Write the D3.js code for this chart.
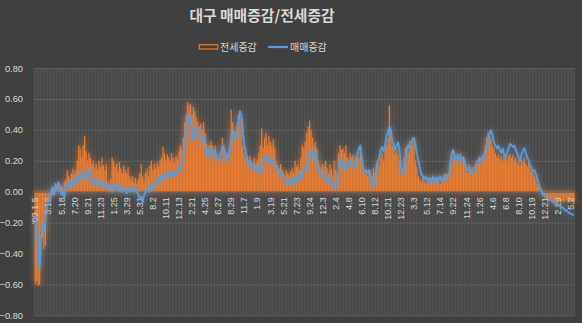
<!DOCTYPE html>
<html>
<head>
<meta charset="utf-8">
<script src="https://cdn.jsdelivr.net/npm/d3@7/dist/d3.min.js"></script>
<style>
  html, body { margin: 0; padding: 0; background: #404040; }
  svg { display: block; }
</style>
</head>
<body>
<svg id="chart" width="582" height="323"></svg>
<script>
// Weekly tick labels (one every 9 weeks)
const tickLabels = ["'09.1.5","3.16","5.18","7.20","9.21","11.23","1.25","3.29","5.31","8.2",
  "10.11","12.13","2.21","4.25","6.27","8.29","11.7","1.9","3.19","5.21",
  "7.23","9.24","12.3","2.4","4.8","6.10","8.12","10.21","12.23","3.3",
  "5.12","7.14","9.22","11.24","1.26","4.6","6.8","8.10","10.19","12.21",
  "2.29","5.2"];
const tickEvery = 9;

// 전세증감 (weekly % change, bars)
const jeonse = [
  -0.60,-0.58,-0.61,-0.60,-0.25,-0.30,-0.37,-0.35,-0.05,-0.04,
  -0.03,-0.04,-0.02,0.02,0.04,0.03,0.05,0.02,0.04,0.03,
  0.06,0.08,0.14,0.10,0.08,0.12,0.15,0.11,0.14,0.20,
  0.30,0.28,0.22,0.30,0.36,0.26,0.20,0.25,0.22,0.18,
  0.20,0.15,0.18,0.14,0.20,0.16,0.22,0.17,0.14,0.18,
  0.06,0.05,0.08,0.22,0.20,0.16,0.18,0.13,0.19,0.15,
  0.12,0.17,0.14,0.12,0.16,0.10,0.08,0.10,0.06,0.09,
  0.05,0.08,0.12,0.18,0.10,0.06,0.12,0.15,0.10,0.17,
  0.20,0.14,0.18,0.15,0.19,0.16,0.20,0.22,0.29,0.25,
  0.20,0.24,0.22,0.20,0.25,0.22,0.19,0.23,0.21,0.26,
  0.30,0.28,0.35,0.45,0.50,0.58,0.56,0.57,0.50,0.55,
  0.52,0.48,0.45,0.42,0.44,0.40,0.45,0.38,0.31,0.28,
  0.30,0.33,0.30,0.27,0.30,0.25,0.20,0.24,0.22,0.35,
  0.30,0.22,0.25,0.20,0.28,0.53,0.45,0.40,0.38,0.42,
  0.50,0.48,0.45,0.30,0.25,0.22,0.20,0.18,0.23,0.20,
  0.16,0.22,0.18,0.20,0.25,0.30,0.41,0.28,0.35,0.38,
  0.30,0.36,0.32,0.30,0.34,0.28,0.20,0.17,0.15,0.18,
  0.14,0.12,0.10,0.14,0.12,0.10,0.13,0.15,0.12,0.20,
  0.16,0.18,0.14,0.22,0.30,0.28,0.32,0.38,0.42,0.46,
  0.40,0.35,0.30,0.32,0.28,0.20,0.17,0.15,0.18,0.16,
  0.20,0.15,0.12,0.18,0.15,0.10,0.20,0.14,0.12,0.25,
  0.30,0.27,0.28,0.25,0.30,0.22,0.20,0.25,0.22,0.24,
  0.20,0.23,0.25,0.22,0.25,0.20,0.15,0.12,0.14,0.10,
  0.13,0.11,0.10,0.15,0.12,0.18,0.20,0.17,0.22,0.25,
  0.20,0.28,0.30,0.35,0.56,0.38,0.30,0.28,0.25,0.27,
  0.24,0.20,0.12,0.15,0.22,0.28,0.30,0.25,0.33,0.30,
  0.35,0.32,0.20,0.16,0.10,0.08,0.06,0.09,0.07,0.05,
  0.08,0.06,0.09,0.07,0.10,0.06,0.08,0.10,0.07,0.05,
  0.09,0.08,0.10,0.12,0.09,0.11,0.20,0.26,0.22,0.25,
  0.21,0.24,0.22,0.25,0.20,0.23,0.18,0.15,0.12,0.18,
  0.14,0.16,0.12,0.17,0.20,0.18,0.21,0.19,0.22,0.25,
  0.30,0.35,0.38,0.36,0.34,0.30,0.28,0.25,0.22,0.24,
  0.21,0.23,0.20,0.24,0.22,0.20,0.23,0.25,0.22,0.24,
  0.20,0.22,0.18,0.20,0.17,0.21,0.19,0.22,0.18,0.16,
  0.19,0.15,0.13,0.12,0.10,0.08,0.05,0.03,0.01,-0.02,
  -0.03,-0.04,-0.05,-0.04,-0.06,-0.05,-0.06,-0.07,-0.06,-0.05,
  -0.07,-0.06,-0.07,-0.06,-0.07,-0.06,-0.05,-0.07,-0.06,-0.07,
  -0.06,-0.07
];

// 매매증감 (weekly % change, line)
const maemae = [
  -0.15,-0.28,-0.42,-0.50,-0.30,-0.22,-0.25,-0.18,-0.12,-0.06,
  -0.03,0.00,0.03,-0.02,0.05,0.02,0.06,0.03,-0.02,0.00,
  -0.04,0.02,0.05,0.03,0.06,0.04,0.07,0.04,0.08,0.10,
  0.07,0.10,0.12,0.10,0.11,0.09,0.12,0.15,0.10,0.06,
  0.08,0.05,0.07,0.05,0.07,0.04,0.06,0.05,0.03,0.05,
  0.02,0.04,0.03,0.00,0.02,0.05,0.03,0.01,0.04,0.02,
  0.00,0.03,0.01,-0.01,0.02,0.00,0.01,0.03,0.00,0.02,
  0.00,-0.02,-0.05,-0.03,-0.07,-0.02,0.00,0.02,0.00,0.03,
  0.05,0.02,0.04,0.06,0.05,0.08,0.10,0.07,0.09,0.11,
  0.10,0.12,0.10,0.11,0.13,0.10,0.12,0.11,0.13,0.15,
  0.14,0.18,0.25,0.32,0.38,0.45,0.50,0.48,0.40,0.33,
  0.36,0.42,0.40,0.38,0.36,0.33,0.35,0.30,0.26,0.22,
  0.27,0.25,0.28,0.24,0.26,0.22,0.20,0.22,0.25,0.30,
  0.28,0.24,0.20,0.23,0.28,0.35,0.39,0.36,0.34,0.40,
  0.46,0.52,0.50,0.40,0.30,0.26,0.22,0.18,0.20,0.16,
  0.18,0.15,0.17,0.14,0.12,0.15,0.13,0.18,0.22,0.23,
  0.20,0.22,0.19,0.21,0.20,0.18,0.16,0.14,0.12,0.14,
  0.10,0.08,0.07,0.08,0.05,0.07,0.06,0.08,0.05,0.09,
  0.07,0.10,0.08,0.12,0.10,0.14,0.16,0.15,0.20,0.24,
  0.27,0.25,0.22,0.26,0.20,0.15,0.12,0.13,0.10,0.12,
  0.09,0.07,0.09,0.06,0.08,0.05,0.03,0.02,0.05,0.12,
  0.22,0.20,0.16,0.18,0.15,0.17,0.19,0.20,0.17,0.18,
  0.16,0.20,0.24,0.28,0.30,0.22,0.15,0.13,0.14,0.12,
  0.14,0.10,0.05,0.03,0.08,0.15,0.20,0.22,0.27,0.29,
  0.26,0.30,0.36,0.39,0.42,0.40,0.33,0.30,0.27,0.30,
  0.32,0.26,0.15,0.11,0.14,0.20,0.27,0.30,0.28,0.32,
  0.34,0.35,0.30,0.24,0.20,0.16,0.11,0.10,0.08,0.10,
  0.07,0.09,0.06,0.08,0.10,0.07,0.09,0.06,0.08,0.10,
  0.07,0.09,0.11,0.08,0.10,0.12,0.18,0.25,0.27,0.22,
  0.20,0.24,0.21,0.23,0.20,0.22,0.19,0.16,0.14,0.15,
  0.13,0.14,0.12,0.15,0.18,0.20,0.22,0.20,0.23,0.22,
  0.26,0.30,0.35,0.38,0.40,0.36,0.32,0.30,0.28,0.30,
  0.27,0.25,0.28,0.24,0.22,0.25,0.28,0.31,0.30,0.29,
  0.30,0.27,0.25,0.22,0.20,0.24,0.27,0.28,0.25,0.22,
  0.20,0.17,0.15,0.13,0.14,0.11,0.08,0.05,0.02,0.00,
  -0.02,-0.02,-0.03,-0.04,-0.05,-0.05,-0.06,-0.07,-0.07,-0.08,
  -0.09,-0.09,-0.10,-0.10,-0.11,-0.12,-0.12,-0.13,-0.14,-0.14,
  -0.15,-0.15
];

const yTicks = [-0.8, -0.6, -0.4, -0.2, 0, 0.2, 0.4, 0.6, 0.8];

const W = 582, H = 323;
const plot = { left: 34.5, right: 574.5, top: 68.1, bottom: 315.3 };
const textColor = "#d9d9d9";
const orange = "#ED7D31", blue = "#5B9BD5";
const font = "'Noto Sans CJK KR', 'Noto Sans', sans-serif";
const numFont = "'Liberation Sans', Arial, sans-serif";

const svg = d3.select("#chart");
svg.append("rect").attr("width", W).attr("height", H).attr("fill", "#404040");

// soft glow filters for the series
const defs = svg.append("defs");
function glow(id, color, sd, strength) {
  const f = defs.append("filter").attr("id", id)
    .attr("filterUnits", "userSpaceOnUse")
    .attr("x", 0).attr("y", 0).attr("width", W).attr("height", H);
  f.append("feGaussianBlur").attr("in", "SourceAlpha").attr("stdDeviation", sd).attr("result", "blur");
  f.append("feFlood").attr("flood-color", color).attr("flood-opacity", strength).attr("result", "col");
  f.append("feComposite").attr("in", "col").attr("in2", "blur").attr("operator", "in").attr("result", "glow");
  const m = f.append("feMerge");
  m.append("feMergeNode").attr("in", "glow");
  m.append("feMergeNode").attr("in", "SourceGraphic");
}
glow("glowOrange", orange, 3, 0.85);
glow("glowBlue", blue, 3, 0.75);

const idx = d3.range(jeonse.length);
const x = d3.scaleBand().domain(idx)
  .range([plot.left, plot.right]).paddingInner(0.2).paddingOuter(0.1);
const y = d3.scaleLinear().domain([-0.8, 0.8]).range([plot.bottom, plot.top]);
const step = x.step(), bw = x.bandwidth();

// category gridlines
svg.append("g").selectAll("line")
  .data(idx.concat([jeonse.length]))
  .join("line")
  .attr("x1", i => plot.left + i * step)
  .attr("x2", i => plot.left + i * step)
  .attr("y1", plot.top).attr("y2", plot.bottom)
  .attr("stroke", "#5a5a5a").attr("stroke-width", 0.75);

// value axis with gridlines
const yAxis = svg.append("g")
  .attr("transform", `translate(${plot.left},0)`)
  .call(d3.axisLeft(y).tickValues(yTicks).tickFormat(d3.format(".2f"))
    .tickSizeInner(-(plot.right - plot.left)).tickSizeOuter(0).tickPadding(11.5));
yAxis.select(".domain").remove();
yAxis.selectAll(".tick line").attr("stroke", "#5f5f5f").attr("stroke-width", 1);
yAxis.selectAll(".tick text")
  .attr("fill", textColor).attr("font-size", 9.3).attr("font-family", numFont);

// bars
svg.append("g").attr("filter", "url(#glowOrange)")
  .selectAll("rect").data(idx).join("rect")
  .attr("x", i => x(i))
  .attr("width", bw)
  .attr("y", i => y(Math.max(0, jeonse[i])))
  .attr("height", i => Math.abs(y(jeonse[i]) - y(0)))
  .attr("fill", orange);

// category axis
const xAxis = svg.append("g")
  .attr("transform", `translate(0,${y(0)})`)
  .call(d3.axisBottom(x)
    .tickValues(idx.filter(i => i % tickEvery === 0))
    .tickFormat(i => tickLabels[i / tickEvery])
    .tickSize(0));
xAxis.select(".domain").attr("stroke", "#5f5f5f");
xAxis.selectAll(".tick text")
  .attr("x", 0).attr("y", 0).attr("dx", 0).attr("dy", "0.35em")
  .attr("transform", "translate(0,5.5) rotate(-90)")
  .attr("text-anchor", "end")
  .attr("fill", textColor).attr("font-size", 9).attr("font-family", numFont);

// line
const line = d3.line().x((d, i) => x(i) + bw / 2).y(d => y(d));
svg.append("path").datum(maemae)
  .attr("d", line)
  .attr("fill", "none").attr("stroke", blue).attr("stroke-width", 1.8)
  .attr("stroke-linejoin", "round")
  .attr("filter", "url(#glowBlue)");

// title
svg.append("text")
  .attr("x", 262).attr("y", 15.5).attr("dy", "0.35em")
  .attr("text-anchor", "middle")
  .attr("fill", textColor).attr("font-size", 14.8).attr("font-weight", "bold")
  .attr("font-family", font)
  .text("대구 매매증감/전세증감");

// legend
const legend = svg.append("g").attr("font-family", font).attr("font-size", 10).attr("fill", textColor);
legend.append("rect").attr("x", 199.2).attr("y", 44.8).attr("width", 18.6).attr("height", 4.2)
  .attr("fill", "none").attr("stroke", orange).attr("stroke-width", 1.2);
legend.append("text").attr("x", 220).attr("y", 47).attr("dy", "0.35em").text("전세증감");
legend.append("line").attr("x1", 268).attr("x2", 288).attr("y1", 47).attr("y2", 47)
  .attr("stroke", blue).attr("stroke-width", 2.2);
legend.append("text").attr("x", 290).attr("y", 47).attr("dy", "0.35em").text("매매증감");
</script>
</body>
</html>
